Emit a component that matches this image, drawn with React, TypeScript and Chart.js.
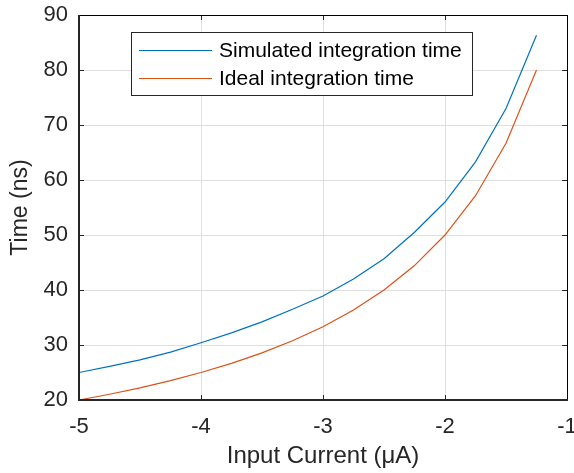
import React, { useEffect, useRef } from "react";
import { Chart, registerables } from "chart.js";

Chart.register(...registerables);

const currents = [-5, -4.75, -4.5, -4.25, -4, -3.75, -3.5, -3.25, -3, -2.75, -2.5, -2.25, -2, -1.75, -1.5, -1.25];
const simulated = [25.0, 26.1, 27.3, 28.7, 30.4, 32.2, 34.2, 36.5, 38.9, 42.0, 45.7, 50.5, 56.0, 63.3, 73.0, 86.3];
const ideal = [20.0, 21.05, 22.22, 23.53, 25.0, 26.67, 28.57, 30.77, 33.33, 36.36, 40.0, 44.44, 50.0, 57.14, 66.67, 80.0];
const seriesNames = ["Simulated integration time", "Ideal integration time"];
const xTitle = "Input Current (μA)";
const yTitle = "Time (ns)";

const FONT = "'Liberation Sans', Arial, Helvetica, sans-serif";
const BLUE = "#0072BD";
const ORANGE = "#D95319";
const TEXT = "#262626";

const boxPlugin = {
  id: "matlabBox",
  afterDraw(chart: any) {
    const { ctx, chartArea: a, scales } = chart;
    ctx.save();
    ctx.strokeStyle = TEXT;
    ctx.lineWidth = 1;
    const xs = scales.x, ys = scales.y;
    xs.ticks.forEach((t: any) => {
      const px = Math.round(xs.getPixelForValue(t.value)) + 0.5;
      ctx.beginPath();
      ctx.moveTo(px, a.bottom); ctx.lineTo(px, a.bottom - 5);
      ctx.moveTo(px, a.top); ctx.lineTo(px, a.top + 5);
      ctx.stroke();
    });
    ys.ticks.forEach((t: any) => {
      const py = Math.round(ys.getPixelForValue(t.value)) + 0.5;
      ctx.beginPath();
      ctx.moveTo(a.left, py); ctx.lineTo(a.left + 5, py);
      ctx.moveTo(a.right, py); ctx.lineTo(a.right - 5, py);
      ctx.stroke();
    });
    ctx.strokeStyle = "#000";
    ctx.lineWidth = 1;
    ctx.beginPath();
    ctx.moveTo(a.left, a.top + 0.5); ctx.lineTo(a.right + 0.5, a.top + 0.5); ctx.lineTo(a.right + 0.5, a.bottom);
    ctx.stroke();
    ctx.strokeStyle = TEXT;
    ctx.lineWidth = 2;
    ctx.beginPath();
    ctx.moveTo(a.left, a.top); ctx.lineTo(a.left, a.bottom); ctx.lineTo(a.right + 1, a.bottom);
    ctx.stroke();

    // legend
    const lx = a.left + 52, ly = a.top + 17, lw = 341, lh = 63;
    ctx.fillStyle = "#fff";
    ctx.fillRect(lx, ly, lw, lh);
    ctx.strokeStyle = TEXT;
    ctx.lineWidth = 1;
    ctx.strokeRect(lx + 0.5, ly + 0.5, lw, lh);
    const colors = [BLUE, ORANGE];
    ctx.font = `21px ${FONT}`;
    ctx.textBaseline = "middle";
    ctx.textAlign = "left";
    seriesNames.forEach((n, i) => {
      const yy = ly + 18 + i * 28;
      ctx.strokeStyle = colors[i];
      ctx.lineWidth = 1.2;
      ctx.beginPath();
      ctx.moveTo(lx + 8, yy + 0.5); ctx.lineTo(lx + 81, yy + 0.5);
      ctx.stroke();
      ctx.fillStyle = "#000";
      ctx.fillText(n, lx + 88, yy + 1);
    });
    ctx.restore();
  },
};

export default function App() {
  const ref = useRef<HTMLCanvasElement>(null);
  useEffect(() => {
    if (!ref.current) return;
    const chart = new Chart(ref.current, {
      type: "line",
      data: {
        datasets: [
          { label: seriesNames[0], data: currents.map((x, i) => ({ x, y: simulated[i] })), borderColor: BLUE, borderWidth: 1.2, pointRadius: 0, tension: 0 },
          { label: seriesNames[1], data: currents.map((x, i) => ({ x, y: ideal[i] })), borderColor: ORANGE, borderWidth: 1.2, pointRadius: 0, tension: 0 },
        ],
      },
      options: {
        animation: false,
        responsive: false,
        layout: { padding: { top: 15, right: 7, left: 0, bottom: 0 } },
        plugins: { legend: { display: false }, tooltip: { enabled: false } },
        scales: {
          x: {
            type: "linear",
            min: -5,
            max: -1,
            ticks: { stepSize: 1, color: TEXT, font: { family: FONT, size: 22 }, padding: 14, maxRotation: 0 },
            grid: { color: "#dfdfdf", lineWidth: 1, drawTicks: false },
            border: { display: false },
            title: { display: true, text: xTitle, color: TEXT, font: { family: FONT, size: 24 }, padding: { top: 0, bottom: 2 } },
            afterFit(s: any) { s.height = 73; s.paddingLeft = 0; s.paddingRight = 0; },
          },
          y: {
            type: "linear",
            min: 20,
            max: 90,
            ticks: { stepSize: 10, color: TEXT, font: { family: FONT, size: 22 }, padding: 11 },
            grid: { color: "#dfdfdf", lineWidth: 1, drawTicks: false },
            border: { display: false },
            title: { display: true, text: yTitle, color: TEXT, font: { family: FONT, size: 23 }, padding: { top: 7, bottom: 0 } },
            afterFit(s: any) { s.width = 79; s.paddingTop = 0; s.paddingBottom = 0; },
          },
        },
      },
      plugins: [boxPlugin],
    } as any);
    return () => chart.destroy();
  }, []);
  return (
    <div style={{ position: "fixed", left: 0, top: 0, width: 574, height: 473, background: "#fff" }}>
      <canvas ref={ref} width={574} height={473} style={{ width: 574, height: 473 }} />
    </div>
  );
}
